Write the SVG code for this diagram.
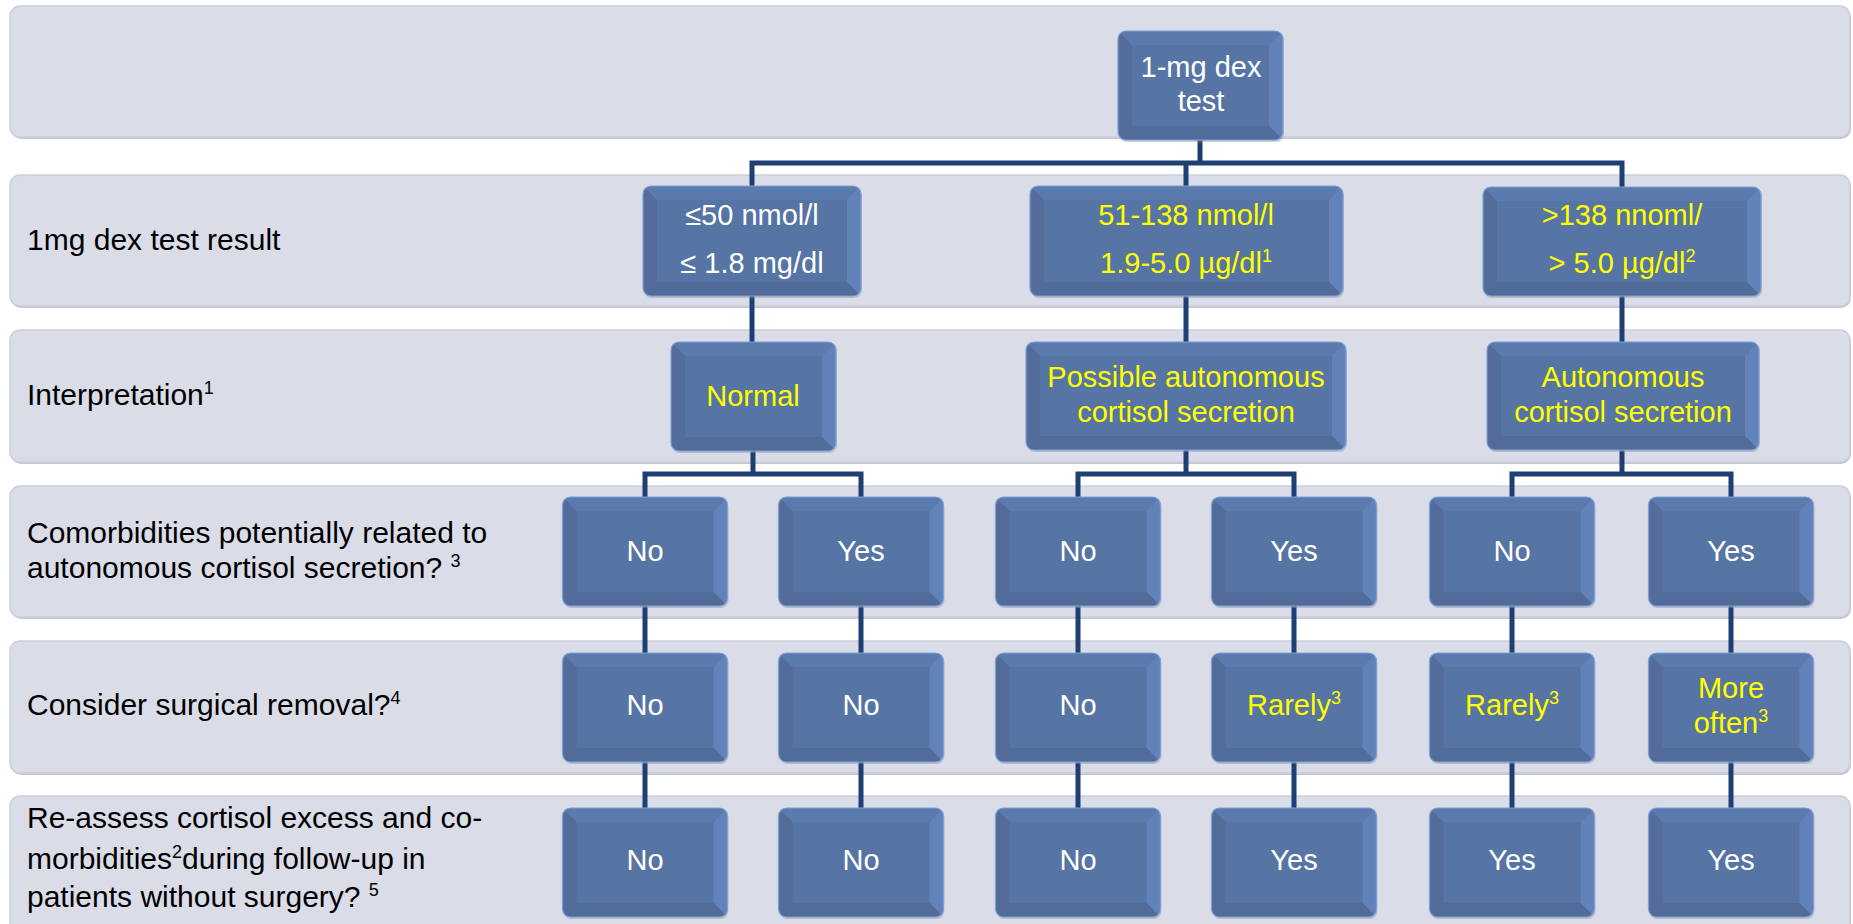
<svg xmlns="http://www.w3.org/2000/svg" width="1853" height="924" viewBox="0 0 1853 924">
<style>
.band{fill:#DADCE8;stroke:#CBCEDB;stroke-width:1.5}
.bshadow{fill:#C3C6D2}
.face{fill:#5674A4}
.bt{fill:#5B7AAE}
.bl{fill:#546C9A}
.br{fill:#6183BA}
.bb{fill:#526C9A}
.edge{fill:none;stroke:#7FA0D6;stroke-width:1.2}
.sh{fill:#8F96AE;opacity:0.45}
.conn{fill:none;stroke:#1E3F73;stroke-width:5;stroke-linejoin:miter}
.lbl{font-family:"Liberation Sans",Arial,sans-serif;font-size:30px;fill:#000000}
.bx{font-family:"Liberation Sans",Arial,sans-serif;font-size:29px;text-anchor:middle}
.w{fill:#FFFFFF}
.y{fill:#FFFF00}
.sup{font-size:18px}
</style>
<defs>
<clipPath id="cA"><rect width="165" height="109" rx="8"/></clipPath>
<clipPath id="cB"><rect width="218" height="110" rx="8"/></clipPath>
<clipPath id="cC"><rect width="313" height="110" rx="8"/></clipPath>
<clipPath id="cD"><rect width="278" height="109" rx="8"/></clipPath>
<clipPath id="cE"><rect width="320" height="108" rx="8"/></clipPath>
<clipPath id="cF"><rect width="272" height="108" rx="8"/></clipPath>
<g id="boxA">
<rect class="sh" x="1" y="2" width="165" height="109" rx="8"/>
<g clip-path="url(#cA)"><rect class="face" width="165" height="109"/>
<path class="bt" d="M0,0H165L151,14H14Z"/><path class="bl" d="M0,0L14,14V95L0,109Z"/>
<path class="br" d="M165,0V109L151,95V14Z"/><path class="bb" d="M0,109L14,95H151L165,109Z"/></g>
<rect class="edge" width="165" height="109" rx="8"/>
</g>
<g id="boxB">
<rect class="sh" x="1" y="2" width="218" height="110" rx="8"/>
<g clip-path="url(#cB)"><rect class="face" width="218" height="110"/>
<path class="bt" d="M0,0H218L204,14H14Z"/><path class="bl" d="M0,0L14,14V96L0,110Z"/>
<path class="br" d="M218,0V110L204,96V14Z"/><path class="bb" d="M0,110L14,96H204L218,110Z"/></g>
<rect class="edge" width="218" height="110" rx="8"/>
</g>
<g id="boxC">
<rect class="sh" x="1" y="2" width="313" height="110" rx="8"/>
<g clip-path="url(#cC)"><rect class="face" width="313" height="110"/>
<path class="bt" d="M0,0H313L299,14H14Z"/><path class="bl" d="M0,0L14,14V96L0,110Z"/>
<path class="br" d="M313,0V110L299,96V14Z"/><path class="bb" d="M0,110L14,96H299L313,110Z"/></g>
<rect class="edge" width="313" height="110" rx="8"/>
</g>
<g id="boxD">
<rect class="sh" x="1" y="2" width="278" height="109" rx="8"/>
<g clip-path="url(#cD)"><rect class="face" width="278" height="109"/>
<path class="bt" d="M0,0H278L264,14H14Z"/><path class="bl" d="M0,0L14,14V95L0,109Z"/>
<path class="br" d="M278,0V109L264,95V14Z"/><path class="bb" d="M0,109L14,95H264L278,109Z"/></g>
<rect class="edge" width="278" height="109" rx="8"/>
</g>
<g id="boxE">
<rect class="sh" x="1" y="2" width="320" height="108" rx="8"/>
<g clip-path="url(#cE)"><rect class="face" width="320" height="108"/>
<path class="bt" d="M0,0H320L306,14H14Z"/><path class="bl" d="M0,0L14,14V94L0,108Z"/>
<path class="br" d="M320,0V108L306,94V14Z"/><path class="bb" d="M0,108L14,94H306L320,108Z"/></g>
<rect class="edge" width="320" height="108" rx="8"/>
</g>
<g id="boxF">
<rect class="sh" x="1" y="2" width="272" height="108" rx="8"/>
<g clip-path="url(#cF)"><rect class="face" width="272" height="108"/>
<path class="bt" d="M0,0H272L258,14H14Z"/><path class="bl" d="M0,0L14,14V94L0,108Z"/>
<path class="br" d="M272,0V108L258,94V14Z"/><path class="bb" d="M0,108L14,94H258L272,108Z"/></g>
<rect class="edge" width="272" height="108" rx="8"/>
</g>
</defs>

<rect width="1853" height="924" fill="#FFFFFF"/>

<g id="bands">
<rect class="bshadow" x="11" y="8" width="1840" height="131" rx="10"/>
<rect class="band" x="10" y="6" width="1840" height="131" rx="10"/>
<rect class="bshadow" x="11" y="177" width="1840" height="131" rx="10"/>
<rect class="band" x="10" y="175" width="1840" height="131" rx="10"/>
<rect class="bshadow" x="11" y="332" width="1840" height="132" rx="10"/>
<rect class="band" x="10" y="330" width="1840" height="132" rx="10"/>
<rect class="bshadow" x="11" y="488" width="1840" height="131" rx="10"/>
<rect class="band" x="10" y="486" width="1840" height="131" rx="10"/>
<rect class="bshadow" x="11" y="643" width="1840" height="132" rx="10"/>
<rect class="band" x="10" y="641" width="1840" height="132" rx="10"/>
<rect class="bshadow" x="11" y="798" width="1840" height="140" rx="10"/>
<rect class="band" x="10" y="796" width="1840" height="140" rx="10"/>
</g>

<g id="row-labels">
<text class="lbl" x="27" y="250">1mg dex test result</text>
<text class="lbl" x="27" y="405">Interpretation<tspan class="sup" dy="-11">1</tspan></text>
<text class="lbl" x="27" y="543">Comorbidities potentially related to</text>
<text class="lbl" x="27" y="578">autonomous cortisol secretion? <tspan class="sup" dy="-11">3</tspan></text>
<text class="lbl" x="27" y="715">Consider surgical removal?<tspan class="sup" dy="-11">4</tspan></text>
<text class="lbl" x="27" y="828">Re-assess cortisol excess and co-</text>
<text class="lbl" x="27" y="869">morbidities<tspan class="sup" dy="-11">2</tspan><tspan dy="11">during follow-up in</tspan></text>
<text class="lbl" x="27" y="907">patients without surgery? <tspan class="sup" dy="-11">5</tspan></text>
</g>

<g id="connectors">
<path class="conn" d="M1200,139V163"/>
<path class="conn" d="M752,186V163H1622V187"/>
<path class="conn" d="M1186,163V186"/>
<path class="conn" d="M752,296V343"/>
<path class="conn" d="M1186,296V342"/>
<path class="conn" d="M1622,296V342"/>
<path class="conn" d="M753,450V474"/>
<path class="conn" d="M645,497V474H861V497"/>
<path class="conn" d="M1186,450V474"/>
<path class="conn" d="M1078,497V474H1294V497"/>
<path class="conn" d="M1622,450V474"/>
<path class="conn" d="M1512,497V474H1731V497"/>
<path class="conn" d="M645,606V653M861,606V653M1078,606V653M1294,606V653M1512,606V653M1731,606V653"/>
<path class="conn" d="M645,762V808M861,762V808M1078,762V808M1294,762V808M1512,762V808M1731,762V808"/>
</g>

<g id="n-test">
<use href="#boxA" x="1118" y="31"/>
<text class="bx w" x="1201" y="77">1-mg dex</text>
<text class="bx w" x="1201" y="111">test</text>
</g>

<g id="n-res-low">
<use href="#boxB" x="643" y="186"/>
<text class="bx w" x="752" y="225">≤50 nmol/l</text>
<text class="bx w" x="752" y="273">≤ 1.8 mg/dl</text>
</g>
<g id="n-res-mid">
<use href="#boxC" x="1030" y="186"/>
<text class="bx y" x="1186" y="225">51-138 nmol/l</text>
<text class="bx y" x="1186" y="273">1.9-5.0 µg/dl<tspan class="sup" dy="-11">1</tspan></text>
</g>
<g id="n-res-high">
<use href="#boxD" x="1483" y="187"/>
<text class="bx y" x="1622" y="225">&gt;138 nnoml/</text>
<text class="bx y" x="1622" y="273">&gt; 5.0 µg/dl<tspan class="sup" dy="-11">2</tspan></text>
</g>

<g id="n-normal">
<use href="#boxA" x="671" y="342"/>
<text class="bx y" x="753" y="406">Normal</text>
</g>
<g id="n-possible">
<use href="#boxE" x="1026" y="342"/>
<text class="bx y" x="1186" y="387">Possible autonomous</text>
<text class="bx y" x="1186" y="422">cortisol secretion</text>
</g>
<g id="n-autonomous">
<use href="#boxF" x="1487" y="342"/>
<text class="bx y" x="1623" y="387">Autonomous</text>
<text class="bx y" x="1623" y="422">cortisol secretion</text>
</g>

<g id="n-com-1"><use href="#boxA" x="562.5" y="497"/><text class="bx w" x="645" y="561">No</text></g>
<g id="n-com-2"><use href="#boxA" x="778.5" y="497"/><text class="bx w" x="861" y="561">Yes</text></g>
<g id="n-com-3"><use href="#boxA" x="995.5" y="497"/><text class="bx w" x="1078" y="561">No</text></g>
<g id="n-com-4"><use href="#boxA" x="1211.5" y="497"/><text class="bx w" x="1294" y="561">Yes</text></g>
<g id="n-com-5"><use href="#boxA" x="1429.5" y="497"/><text class="bx w" x="1512" y="561">No</text></g>
<g id="n-com-6"><use href="#boxA" x="1648.5" y="497"/><text class="bx w" x="1731" y="561">Yes</text></g>

<g id="n-sur-1"><use href="#boxA" x="562.5" y="653"/><text class="bx w" x="645" y="715">No</text></g>
<g id="n-sur-2"><use href="#boxA" x="778.5" y="653"/><text class="bx w" x="861" y="715">No</text></g>
<g id="n-sur-3"><use href="#boxA" x="995.5" y="653"/><text class="bx w" x="1078" y="715">No</text></g>
<g id="n-sur-4"><use href="#boxA" x="1211.5" y="653"/><text class="bx y" x="1294" y="715">Rarely<tspan class="sup" dy="-11">3</tspan></text></g>
<g id="n-sur-5"><use href="#boxA" x="1429.5" y="653"/><text class="bx y" x="1512" y="715">Rarely<tspan class="sup" dy="-11">3</tspan></text></g>
<g id="n-sur-6"><use href="#boxA" x="1648.5" y="653"/><text class="bx y" x="1731" y="698">More</text><text class="bx y" x="1731" y="733">often<tspan class="sup" dy="-11">3</tspan></text></g>

<g id="n-fu-1"><use href="#boxA" x="562.5" y="808"/><text class="bx w" x="645" y="870">No</text></g>
<g id="n-fu-2"><use href="#boxA" x="778.5" y="808"/><text class="bx w" x="861" y="870">No</text></g>
<g id="n-fu-3"><use href="#boxA" x="995.5" y="808"/><text class="bx w" x="1078" y="870">No</text></g>
<g id="n-fu-4"><use href="#boxA" x="1211.5" y="808"/><text class="bx w" x="1294" y="870">Yes</text></g>
<g id="n-fu-5"><use href="#boxA" x="1429.5" y="808"/><text class="bx w" x="1512" y="870">Yes</text></g>
<g id="n-fu-6"><use href="#boxA" x="1648.5" y="808"/><text class="bx w" x="1731" y="870">Yes</text></g>
</svg>
